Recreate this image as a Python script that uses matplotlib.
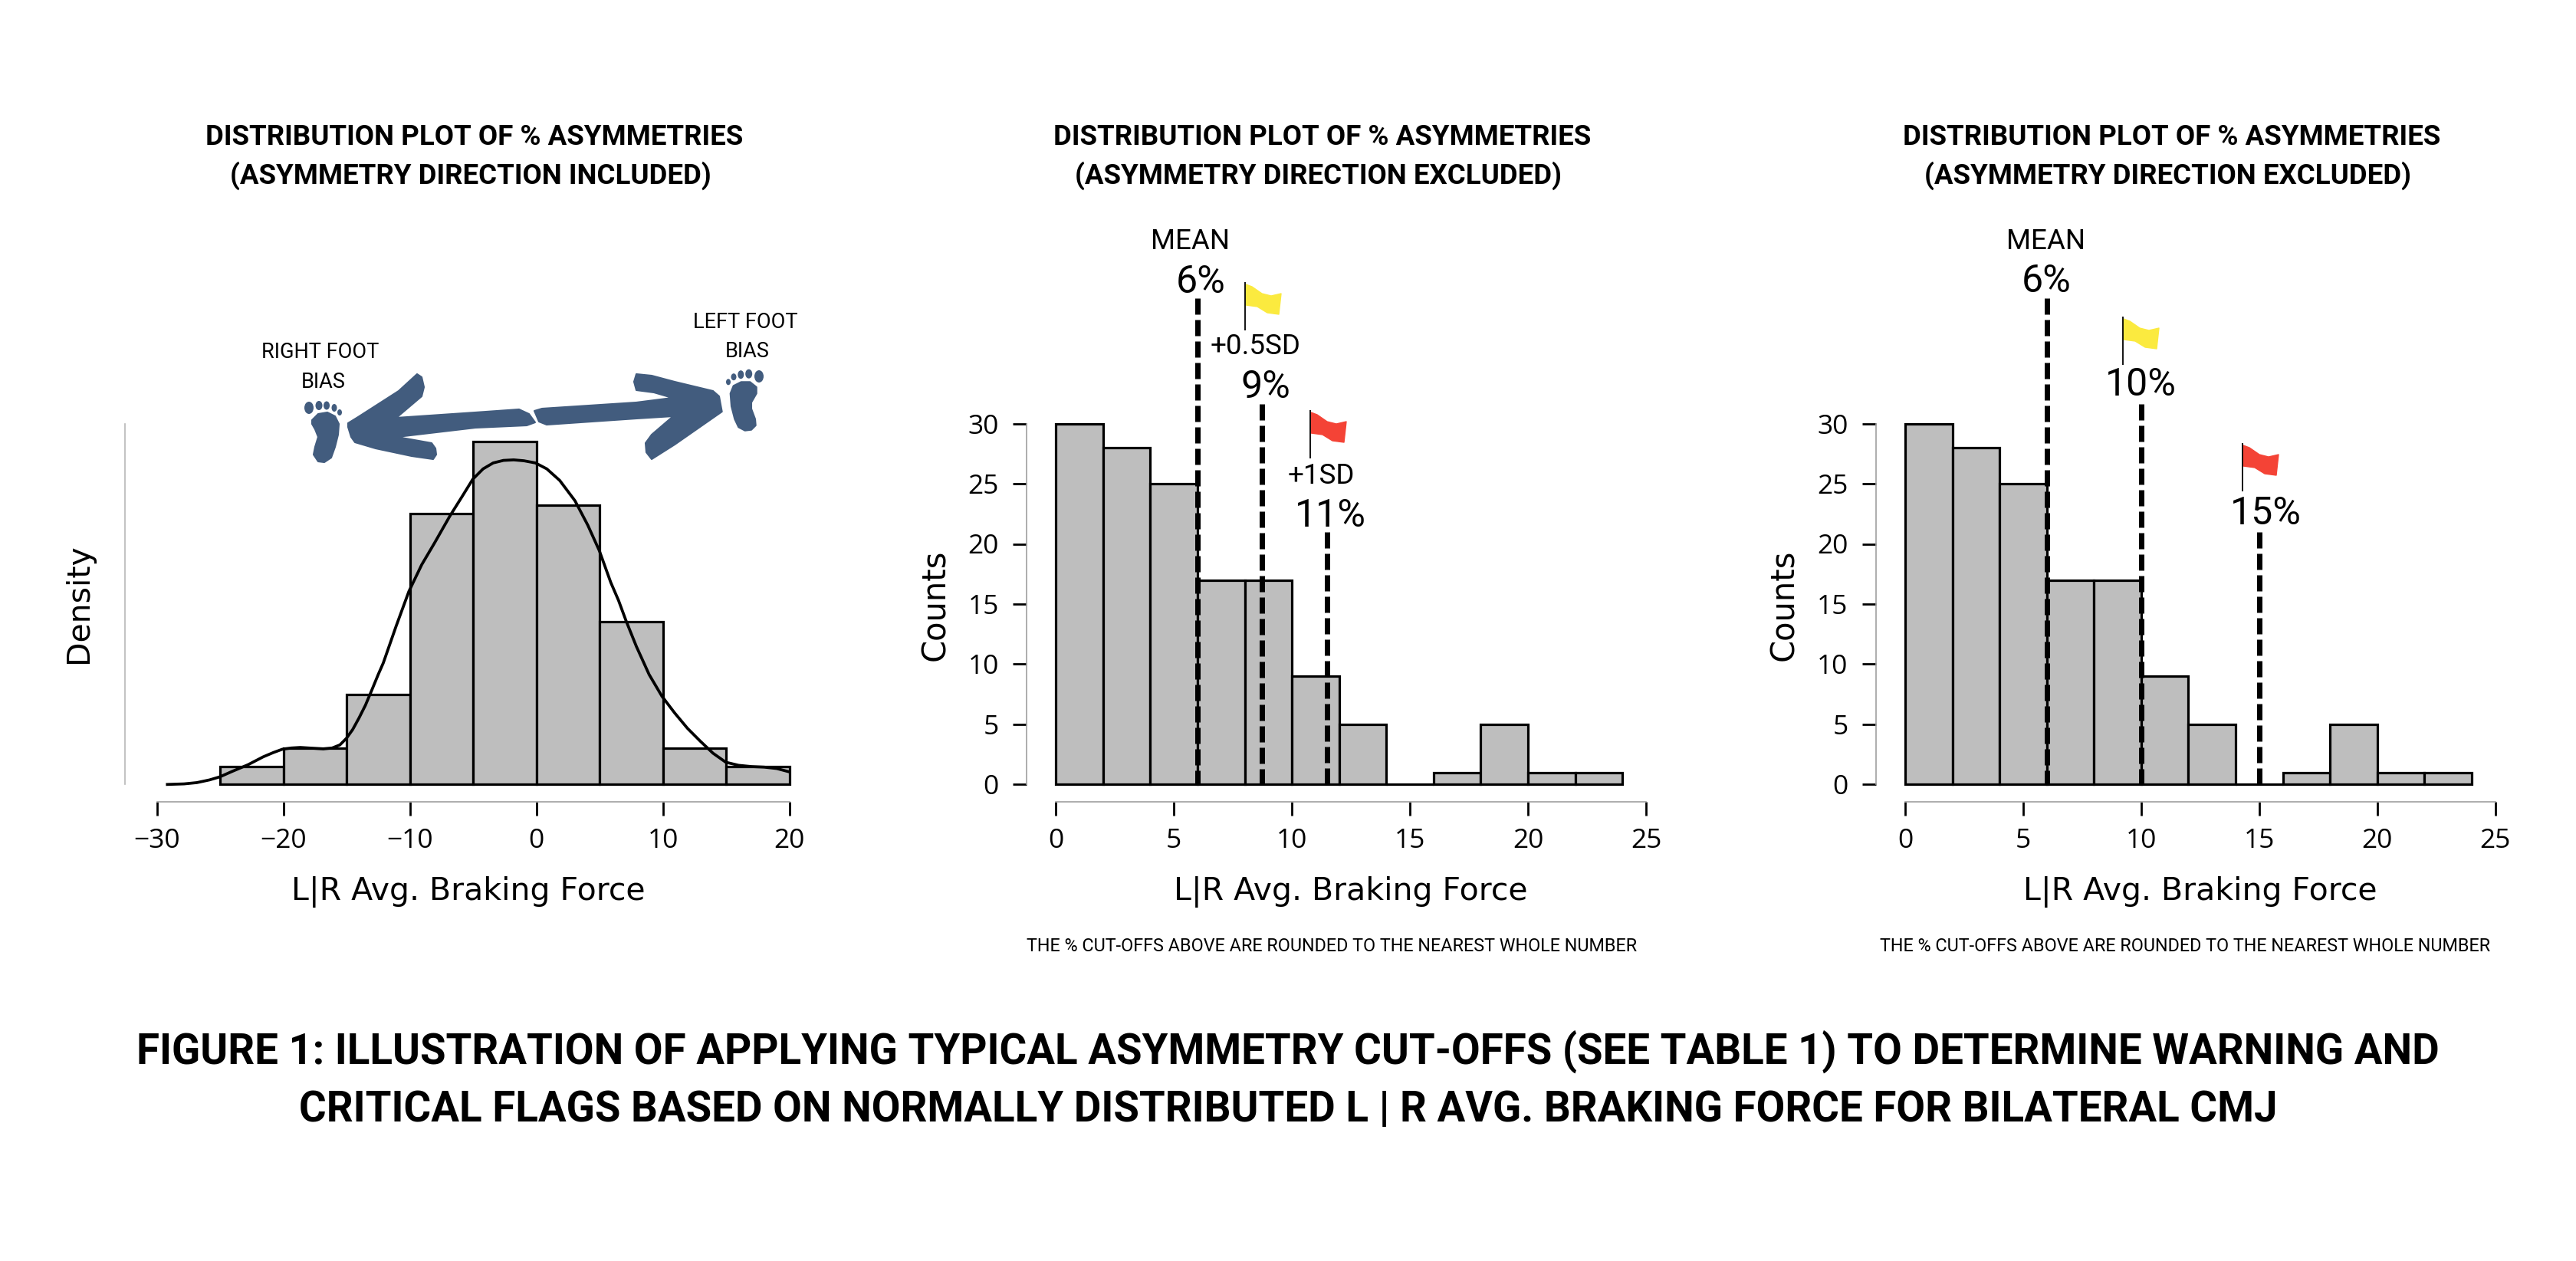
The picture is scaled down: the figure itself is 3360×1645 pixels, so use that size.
import matplotlib
matplotlib.use("Agg")
import matplotlib.pyplot as plt
from matplotlib.patches import Ellipse, Polygon

W, H = 3360, 1645
DPI = 100
PT = 72 / DPI  # px -> pt

# data
left_edges = [-25, -20, -15, -10, -5, 0, 5, 10, 15, 20]
left_heights = [1, 2, 5, 15, 19, 15.5, 9, 2, 1]
kde_x = [-29.17, -27.85, -26.84, -25.84, -25.02, -24.02, -22.8, -21.59, -20.78, -20.08, -19.37, -18.66, -17.75, -16.84,
         -16.14, -15.53, -15.02, -14.52, -14.02, -13.51, -13.0, -12.5, -12.1, -11.08, -10.08, -9.06, -8.05, -6.84,
         -5.83, -5.02, -4.21, -3.41, -2.6, -1.79, -0.98, -0.07, 0.83, 1.85, 3.06, 4.07, 4.98, 5.89, 6.5, 7.1,
         7.91, 8.92, 9.93, 10.94, 11.95, 12.96, 13.97, 14.98, 15.99, 17.0, 18.01, 19.02, 19.93]
kde_y = [0, 0.03, 0.1, 0.25, 0.42, 0.73, 1.09, 1.53, 1.77, 1.95, 2.02, 2.05, 2.01, 1.97,
         2.02, 2.19, 2.55, 3.04, 3.68, 4.39, 5.24, 6.09, 6.73, 8.78, 10.69, 12.18, 13.38, 14.87,
         16.0, 16.92, 17.49, 17.82, 17.96, 17.99, 17.94, 17.82, 17.49, 16.85, 15.72, 14.37, 12.96, 11.19, 10.2, 9.06,
         7.65, 6.09, 4.89, 3.96, 3.11, 2.4, 1.73, 1.23, 1.06, 0.99, 0.96, 0.88, 0.71]
left_xticks = [-30, -20, -10, 0, 10, 20]

count_edges = [0, 2, 4, 6, 8, 10, 12, 14, 16, 18, 20, 22, 24]
counts = [30, 28, 25, 17, 17, 9, 5, 0, 1, 5, 1, 1]
count_xticks = [0, 5, 10, 15, 20, 25]
count_yticks = [0, 5, 10, 15, 20, 25, 30]
mid_cutoffs = [6, 8.74, 11.5]
right_cutoffs = [6, 10, 15]
cutoff_tops = [40.4, 31.65, 20.96]

XLABEL = "L|R Avg. Braking Force"
NOTE = "THE % CUT-OFFS ABOVE ARE ROUNDED TO THE NEAREST WHOLE NUMBER"
TITLE_LINES = ["DISTRIBUTION PLOT OF % ASYMMETRIES", "(ASYMMETRY DIRECTION INCLUDED)", "(ASYMMETRY DIRECTION EXCLUDED)"]
CAPTION = ["FIGURE 1: ILLUSTRATION OF APPLYING TYPICAL ASYMMETRY CUT-OFFS (SEE TABLE 1) TO DETERMINE WARNING AND",
           "CRITICAL FLAGS BASED ON NORMALLY DISTRIBUTED L | R AVG. BRAKING FORCE FOR BILATERAL CMJ"]

_GREY = "#BEBEBE"; _SPINE = "#A0A0A0"; _NAVY = "#425C7E"; _YELLOW = "#FBEA3F"; _RED = "#F44336"
_AXFONT = "DejaVu Sans"; _TICKFONT = "Open Sans"; _TXT = "Roboto"

fig = plt.figure(figsize=(W / DPI, H / DPI), dpi=DPI, facecolor="white")
ov = fig.add_axes([0, 0, 1, 1], zorder=5)
ov.set_xlim(0, W); ov.set_ylim(H, 0); ov.axis("off")


def make_axes(x0, x1, y_bottom=1023.3, y_top=552.6):
    ax = fig.add_axes([x0 / W, 1 - y_bottom / H, (x1 - x0) / W, (y_bottom - y_top) / H])
    ax.patch.set_alpha(0)
    for s in ("top", "right"):
        ax.spines[s].set_visible(False)
    ax.spines["bottom"].set_position(("outward", 23 * PT))
    ax.spines["bottom"].set_linewidth(1.2); ax.spines["bottom"].set_color(_SPINE)
    ax.spines["left"].set_linewidth(1.2); ax.spines["left"].set_color(_SPINE)
    ax.tick_params(axis="x", length=17.5 * PT, width=2, pad=12, labelsize=25.5)
    ax.tick_params(axis="y", length=18 * PT, width=2, pad=13, labelsize=25.5)
    return ax


def finish_x(ax, ticks, label_x):
    ax.set_xlim(ticks[0], ticks[-1]); ax.set_xticks(ticks)
    ax.spines["bottom"].set_bounds(ticks[0], ticks[-1])
    ax.set_xticklabels([str(t).replace("-", "\u2212") for t in ticks], fontfamily=_TICKFONT)
    ax.set_xlabel(XLABEL, fontsize=29.5, fontfamily=_AXFONT, va="top")
    ax.xaxis.set_label_coords(label_x, 1143, transform=ov.transData)


def txt(x, y, s, size, **kw):
    kw.setdefault("ha", "center"); kw.setdefault("va", "baseline")
    ov.text(x, y, s, fontsize=size, fontfamily=kw.pop("family", _TXT), color="black", **kw)


def flag(x, y, color):
    # little wavy flag, x,y = top of the pole
    shape = [(1, 3), (9, 6), (22, 15), (34, 18), (47, 15), (44, 42), (29, 40), (16, 32), (1, 30)]
    ov.add_patch(Polygon([(x + a, y + b) for a, b in shape], closed=True, fc=color, ec=color, lw=1, joinstyle="round"))
    ov.plot([x, x], [y, y + 63], color="black", lw=1.3, solid_capstyle="butt")


def count_panel(x0, x1, cutoffs, label_x, ylabel_x):
    ax = make_axes(x0, x1)
    ax.spines["left"].set_position(("outward", 38.3 * PT))
    ax.bar(count_edges[:-1], counts, width=2, align="edge", facecolor=_GREY, edgecolor="black", linewidth=2.3, clip_on=False)
    for c, top in zip(cutoffs, cutoff_tops):
        ax.plot([c, c], [top, 0], color="black", lw=7 * PT, linestyle=(0, (3, 1)), dash_capstyle="butt", clip_on=False, zorder=4)
    ax.set_ylim(0, 30); ax.set_yticks(count_yticks)
    ax.set_yticklabels([str(t) for t in count_yticks], fontfamily=_TICKFONT)
    ax.spines["left"].set_bounds(0, 30)
    ax.set_ylabel("Counts", fontsize=30, fontfamily=_AXFONT, va="center")
    ax.yaxis.set_label_coords(ylabel_x, 789, transform=ov.transData)
    finish_x(ax, count_xticks, label_x)
    return ax


# left panel: density
ax1 = make_axes(204.6, 1029.5)
ax1.spines["left"].set_position(("outward", 41.8 * PT))
ax1.bar(left_edges[:-1], left_heights, width=5, align="edge", facecolor=_GREY, edgecolor="black", linewidth=2.3, clip_on=False)
ax1.plot(kde_x, kde_y, color="black", lw=2.7, clip_on=False, zorder=4, solid_joinstyle="round")
ax1.set_ylim(0, 20); ax1.set_yticks([])
ax1.spines["left"].set_color("#B8B8B8")
ax1.set_ylabel("Density", fontsize=29.5, fontfamily=_AXFONT, va="center")
ax1.yaxis.set_label_coords(103, 787, transform=ov.transData)
finish_x(ax1, left_xticks, 611)

# middle and right panels
count_panel(1377.3, 2147, mid_cutoffs, 1762, 1220)
count_panel(2485, 3254.7, right_cutoffs, 2870, 2327)

# titles
for cx, sub in ((619, TITLE_LINES[1]), (1725, TITLE_LINES[2]), (2833, TITLE_LINES[2])):
    txt(cx, 189, TITLE_LINES[0], 26.4, fontweight="bold")
    txt(cx - 5, 240, sub, 26.4, fontweight="bold")

# annotations, middle panel
txt(1553, 325, "MEAN", 26.5)
txt(1566, 382, "6%", 36)
flag(1624, 368, _YELLOW)
txt(1638, 462, "+0.5SD", 26.5)
txt(1651, 519, "9%", 36)
flag(1709, 535, _RED)
txt(1723, 631, "+1SD", 26.5)
txt(1735, 687, "11%", 36)
txt(1737, 1241, NOTE, 16.8)

# annotations, right panel
txt(2669, 325, "MEAN", 26.5)
txt(2669, 381, "6%", 36)
flag(2769, 413, _YELLOW)
txt(2792.5, 515.5, "10%", 36)
flag(2925, 578, _RED)
txt(2955, 684, "15%", 36)
txt(2850, 1241, NOTE, 16.8)

# foot / arrow graphic
txt(418, 467, "RIGHT FOOT", 19.5); txt(422, 506, "BIAS", 19.5)
txt(972, 428, "LEFT FOOT", 19.5); txt(975, 466, "BIAS", 19.5)

left_arrow = [(454, 552), (467, 544), (520, 510), (544, 488), (550, 492), (553, 505), (550, 517), (517, 545), (620, 538),
              (677, 534), (690, 540), (698, 551), (687, 555), (620, 558), (518, 570), (563, 578), (568, 585), (569, 593),
              (565, 599), (537, 595), (490, 585), (463, 577), (458, 570), (454, 557)]
right_arrow = [(697, 536), (707, 533), (830, 525), (877, 519), (853, 512), (830, 509), (827, 498), (830, 488), (850, 490),
               (880, 498), (930, 510), (938, 517), (940, 528), (941.7, 537), (913, 557), (880, 580), (850, 599), (843, 590),
               (842, 578), (850, 567), (878, 543), (830, 546), (713, 554), (703, 550)]
left_sole = [(407, 548), (415, 540), (427, 538), (437, 543), (442, 553), (441, 567), (437, 583), (432, 597), (423, 603),
             (415, 602), (409, 593), (411, 583), (415, 570), (411, 560), (407, 553)]
right_sole = [(952.7, 513.3), (956.7, 503.3), (966.7, 498.3), (978.3, 498.3), (986.7, 505), (986.7, 513.3), (980, 525),
              (980, 533.3), (985, 546.7), (985.7, 555), (980, 560.7), (971.7, 561.7), (963.3, 557.3), (958.3, 546.7), (954, 530)]
for pts in (left_arrow, right_arrow, left_sole, right_sole):
    ov.add_patch(Polygon(pts, closed=True, fc=_NAVY, ec=_NAVY, lw=1.5, joinstyle="round"))
left_toes = [(403, 532, 12, 16), (416, 529, 9, 12), (426, 529, 8, 11), (436, 532, 7, 10), (443, 538, 6, 8)]
right_toes = [(990, 491, 12, 16), (976.7, 487.7, 9, 12), (966.3, 488.7, 8, 11), (957, 491.7, 7, 9), (950, 498.3, 6, 8)]
for cx, cy, w, h in left_toes + right_toes:
    ov.add_patch(Ellipse((cx, cy), w, h, fc=_NAVY, ec="none"))

# figure caption
txt(1680, 1388, CAPTION[0], 39.3, fontweight="bold")
txt(1680, 1463, CAPTION[1], 39.3, fontweight="bold")

fig.savefig("out.png", dpi=DPI, facecolor="white")
